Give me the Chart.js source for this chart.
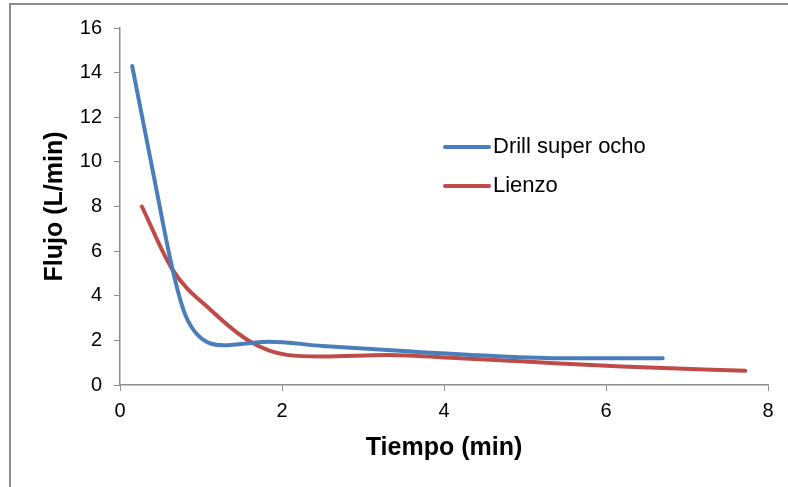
<!DOCTYPE html>
<html>
<head>
<meta charset="utf-8">
<script src="https://cdn.jsdelivr.net/npm/chart.js@4"></script>
<style>
  html, body { margin: 0; padding: 0; background: #fff; }
  #wrap { width: 788px; height: 487px; position: relative; }
</style>
</head>
<body>
<div id="wrap"><canvas id="grafico" width="788" height="487"></canvas></div>
<script>
// valores
const tiempoDrill = [0.15, 0.41, 0.65, 0.8, 0.97, 1.28, 1.83, 2.5, 3.5, 4.5, 5.5, 6.7];
const flujoDrill  = [14.3, 9.5, 5.16, 3.2, 2.2, 1.78, 1.94, 1.75, 1.52, 1.32, 1.2, 1.2];
const tiempoLienzo = [0.27, 0.65, 1.12, 1.61, 2.06, 2.5, 3.3, 4.2, 5.0, 6.2, 7.72];
const flujoLienzo  = [8.0, 5.16, 3.36, 1.94, 1.35, 1.28, 1.35, 1.2, 1.05, 0.83, 0.64];
const etiquetas = ['Drill super ocho', 'Lienzo'];
const colores = ['#4A7EBB', '#BE4B48'];

const fuente = "'Liberation Sans', Arial, sans-serif";

function puntos(xs, ys) {
  return xs.map((x, i) => ({ x: x, y: ys[i] }));
}

// borde del grafico y leyenda dentro del area
const extras = {
  id: 'extras',
  afterDraw(chart) {
    const ctx = chart.ctx;
    ctx.save();
    ctx.strokeStyle = '#8c8c8c';
    ctx.lineWidth = 2;
    ctx.beginPath();
    ctx.moveTo(10, 487);
    ctx.lineTo(10, 4);
    ctx.lineTo(788, 4);
    ctx.stroke();

    ctx.font = '22px ' + fuente;
    ctx.textBaseline = 'middle';
    chart.data.datasets.forEach((ds, i) => {
      const y = 147 + i * 39;
      ctx.strokeStyle = ds.borderColor;
      ctx.lineWidth = 4;
      ctx.lineCap = 'round';
      ctx.beginPath();
      ctx.moveTo(445, y);
      ctx.lineTo(489, y);
      ctx.stroke();
      ctx.fillStyle = '#000';
      ctx.fillText(ds.label, 493, y);
    });
    ctx.restore();
  }
};

const ctx = document.getElementById('grafico').getContext('2d');
new Chart(ctx, {
  type: 'line',
  data: {
    datasets: [{
      label: etiquetas[0],
      data: puntos(tiempoDrill, flujoDrill),
      borderColor: colores[0],
      backgroundColor: colores[0],
      borderWidth: 4,
      borderCapStyle: 'round',
      pointRadius: 0,
      cubicInterpolationMode: 'monotone',
      fill: false
    }, {
      label: etiquetas[1],
      data: puntos(tiempoLienzo, flujoLienzo),
      borderColor: colores[1],
      backgroundColor: colores[1],
      borderWidth: 4,
      borderCapStyle: 'round',
      pointRadius: 0,
      cubicInterpolationMode: 'monotone',
      fill: false
    }]
  },
  options: {
    responsive: false,
    animation: false,
    layout: { padding: { left: 0, top: 28, right: 20, bottom: 0 } },
    plugins: {
      legend: { display: false },
      tooltip: { enabled: false }
    },
    scales: {
      x: {
        type: 'linear',
        min: 0,
        max: 8,
        afterFit(scale) { scale.height = 102; },
        ticks: { stepSize: 2, color: '#000', font: { family: fuente, size: 20 }, padding: 8 },
        grid: { drawOnChartArea: false, tickLength: 6, color: '#8c8c8c' },
        border: { color: '#8c8c8c', width: 1.5 },
        title: {
          display: true,
          text: 'Tiempo (min)',
          color: '#000',
          font: { family: fuente, size: 25, weight: 'bold' },
          padding: { top: 0, bottom: 24 }
        }
      },
      y: {
        min: 0,
        max: 16,
        afterFit(scale) { scale.width = 120; },
        ticks: { stepSize: 2, color: '#000', font: { family: fuente, size: 20 }, padding: 12 },
        grid: { drawOnChartArea: false, tickLength: 6, color: '#8c8c8c' },
        border: { color: '#8c8c8c', width: 1.5 },
        title: {
          display: true,
          text: 'Flujo (L/min)',
          color: '#000',
          font: { family: fuente, size: 25, weight: 'bold' },
          padding: { top: 40, bottom: 0 }
        }
      }
    }
  },
  plugins: [extras]
});
</script>
</body>
</html>
